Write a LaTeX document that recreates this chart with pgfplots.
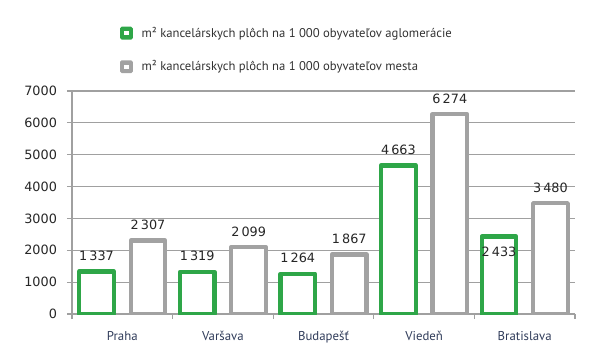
\documentclass[border=0pt]{standalone}
\usepackage{pgfplots}
\usepackage{pgfplotstable}
\pgfplotsset{compat=1.18}
\usepackage{fontspec}
\setmainfont{DejaVu Sans}
\newfontfamily\ptsans{PT Sans}
\definecolor{bargreen}{RGB}{46,166,72}
\definecolor{bargray}{RGB}{162,162,162}
\definecolor{axisgray}{RGB}{160,160,160}
\definecolor{cattext}{RGB}{48,60,90}
\definecolor{legtext}{RGB}{50,50,50}
\pgfplotstableread{
x g gl m ml
0 1337 11.8 2307 11.8
1 1319 11.8 2099 11.8
2 1264 11.8 1867 11.8
3 4663 11.8 6274 11.8
4 2433 -11.6 3480 11.8
}\data
\begin{document}
\begin{tikzpicture}
\begin{axis}[
  scale only axis, width=377.25pt, height=167.25pt,
  xmin=-0.5, xmax=4.5, ymin=0, ymax=7000,
  axis x line*=bottom, axis y line*=left,
  axis line style={draw=axisgray, line width=0.8pt},
  ybar=12.6pt, bar width=26pt,
  xtick={-0.5,0.5,...,4.5}, xticklabels={},
  extra x ticks={0,1,2,3,4},
  extra x tick labels={Praha,Varšava,Budapešť,Viedeň,Bratislava},
  extra x tick style={major tick length=0pt, grid=none,
    xticklabel style={font=\ptsans\fontsize{9.6}{11}\selectfont, text=cattext, yshift=-9.5pt}},
  ytick={0,1000,...,7000},
  ymajorgrids, grid style={draw=axisgray, line width=0.8pt},
  tick align=outside, major tick length=3.75pt,
  tick style={draw=axisgray, line width=0.8pt},
  /pgf/number format/assume math mode=true,
  /pgf/number format/1000 sep={},
  yticklabel style={font=\fontsize{9.6}{11}\selectfont, text=black!85, xshift=-4pt},
  legend style={at={(0.095,1.300)}, anchor=north west, draw=none, fill=none,
    font=\ptsans\fontsize{9.5}{11}\selectfont, text=legtext, row sep=12pt,
    inner sep=0pt, cells={anchor=west}},
  nodes near coords={\pgfmathprintnumber[1000 sep={\,}]{\pgfplotspointmeta}},
  point meta=y,
  every node near coord/.append style={font=\fontsize{9.6}{11}\selectfont, text=black!85, anchor=center, yshift=\off pt},
]
\addplot+[draw=bargreen, fill=white, line width=3.2pt, line join=round,
  visualization depends on={\thisrow{gl}\as\off},
  legend image code/.code={\fill[draw=none, fill=bargreen, rounded corners=1.2pt] (0pt,-4.8pt) rectangle (9.6pt,4.8pt);
    \fill[draw=none, fill=white] (3.2pt,-1.6pt) rectangle (6.4pt,1.6pt);
    \path[draw=none, fill=none] (0pt,0pt) -- (14.2pt,0pt);}]
  table[x=x, y=g] {\data};
\addlegendentry{m² kancelárskych plôch na 1 000 obyvateľov aglomerácie}
\addplot+[draw=bargray, fill=white, line width=3.2pt, line join=round,
  visualization depends on={\thisrow{ml}\as\off},
  legend image code/.code={\fill[draw=none, fill=bargray, rounded corners=1.2pt] (0pt,-4.8pt) rectangle (9.6pt,4.8pt);
    \fill[draw=none, fill=white] (3.2pt,-1.6pt) rectangle (6.4pt,1.6pt);
    \path[draw=none, fill=none] (0pt,0pt) -- (14.2pt,0pt);}]
  table[x=x, y=m] {\data};
\addlegendentry{m² kancelárskych plôch na 1 000 obyvateľov mesta}
\coordinate (bbsw) at (rel axis cs:-0.1431,-0.2152);
\coordinate (bbne) at (rel axis cs:1.0497,1.4081);
\end{axis}
\pgfresetboundingbox
\path[use as bounding box] (bbsw) rectangle (bbne);
\end{tikzpicture}
\end{document}
